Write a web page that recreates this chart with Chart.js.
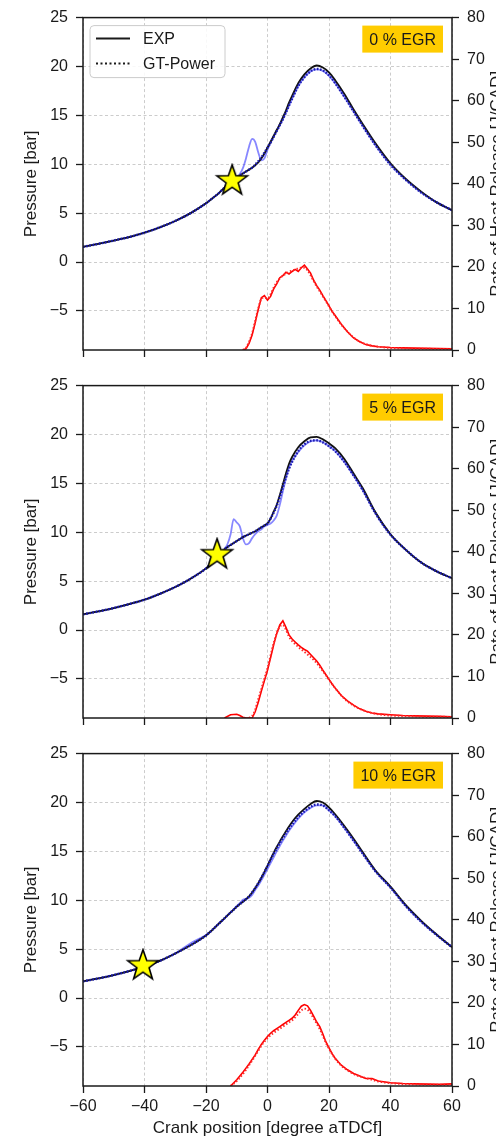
<!DOCTYPE html>
<html>
<head>
<meta charset="utf-8">
<script src="https://cdn.jsdelivr.net/npm/chart.js@4/dist/chart.umd.min.js"></script>
<style>
  body { margin: 0; background: #fff; }
  .wrap { position: relative; width: 496px; height: 1140px; overflow: hidden; }
  canvas { position: absolute; left: 0; }
</style>
</head>
<body>
<div class="wrap">
  <canvas id="c1" width="496" height="372" style="top:0"></canvas>
  <canvas id="c2" width="496" height="372" style="top:368px"></canvas>
  <canvas id="c3" width="496" height="404" style="top:736px"></canvas>
</div>
<script>
// ticks
const crankTicks = [-60, -40, -20, 0, 20, 40, 60];
const pressTicks = [-5, 0, 5, 10, 15, 20, 25];
const rohrTicks = [0, 10, 20, 30, 40, 50, 60, 70, 80];
const egrLabels = ['0 % EGR', '5 % EGR', '10 % EGR'];

// crank angle grid for the pressure traces [deg aTDCf]
const crankP = [-60,-55,-50,-45,-40,-35,-30,-25,-20,-18,-16,-15,-14,-13,-12,-11,-10,-9,-8,-7,-6,-5,-4,-3,-2,-1,0,1,2,3,4,5,6,7,8,10,12,14,16,18,20,22,25,28,31,35,40,45,50,55,60];

// pressure [bar]
const p1Exp = [1.55,1.85,2.2,2.55,3.0,3.55,4.2,5.0,6.0,6.5,7.0,7.3,7.6,7.9,8.15,8.4,8.65,8.85,9.05,9.25,9.45,9.65,9.9,10.2,10.6,11.1,11.7,12.3,12.9,13.5,14.1,14.8,15.5,16.3,17.0,18.3,19.2,19.8,20.1,19.9,19.4,18.6,17.2,15.6,14.1,12.2,10.1,8.5,7.2,6.1,5.3];
const p1Gt  = [1.55,1.85,2.2,2.55,3.0,3.55,4.2,5.0,6.0,6.5,7.0,7.3,7.6,7.9,8.15,8.4,8.65,8.85,9.05,9.25,9.45,9.65,9.95,10.3,10.7,11.2,11.7,12.2,12.8,13.4,14.0,14.6,15.3,16.0,16.7,18.0,18.9,19.5,19.75,19.6,19.1,18.3,16.9,15.4,13.9,12.0,9.95,8.4,7.1,6.1,5.3];
const p1Raw = [1.55,1.85,2.2,2.55,3.0,3.55,4.2,5.0,6.0,6.5,7.0,7.3,7.6,7.9,8.15,8.4,8.7,9.0,9.6,10.6,11.8,12.6,12.3,11.2,10.4,10.6,11.5,12.2,12.8,13.4,14.0,14.6,15.3,16.0,16.7,18.0,18.9,19.5,19.7,19.55,19.05,18.3,16.9,15.4,13.9,12.0,9.95,8.4,7.1,6.1,5.3];

const p2Exp = [1.6,1.9,2.25,2.65,3.1,3.7,4.4,5.25,6.3,6.9,7.6,7.95,8.25,8.5,8.7,8.9,9.1,9.3,9.5,9.65,9.8,9.95,10.1,10.3,10.5,10.7,10.9,11.4,12.1,12.8,13.8,14.9,16.0,17.0,17.7,18.7,19.3,19.7,19.75,19.5,19.1,18.6,17.5,16.0,14.5,12.1,9.8,8.2,6.9,6.0,5.3];
const p2Gt  = [1.6,1.9,2.25,2.65,3.1,3.7,4.4,5.25,6.3,6.9,7.6,7.95,8.25,8.5,8.7,8.9,9.1,9.3,9.5,9.65,9.8,9.95,10.1,10.3,10.5,10.7,10.9,11.4,12.0,12.7,13.6,14.6,15.6,16.5,17.2,18.3,19.0,19.35,19.4,19.2,18.8,18.3,17.2,15.8,14.3,12.0,9.75,8.2,6.9,6.0,5.3];
const p2Raw = [1.6,1.9,2.25,2.65,3.1,3.7,4.4,5.25,6.3,6.9,7.6,7.95,8.3,8.8,9.8,11.35,11.0,10.6,9.4,8.75,8.9,9.4,9.8,10.1,10.3,10.6,10.75,10.9,11.2,11.7,12.8,14.2,15.5,16.6,17.3,18.2,18.9,19.3,19.4,19.2,18.8,18.3,17.2,15.8,14.3,12.0,9.75,8.2,6.9,6.0,5.3];

const p3Exp = [1.7,2.0,2.35,2.75,3.2,3.8,4.55,5.4,6.4,6.95,7.55,7.85,8.15,8.45,8.75,9.05,9.35,9.6,9.85,10.1,10.4,10.8,11.25,11.75,12.3,12.9,13.55,14.2,14.85,15.45,16.0,16.55,17.05,17.55,18.0,18.75,19.35,19.85,20.15,20.0,19.5,18.8,17.6,16.3,14.9,13.1,11.4,9.5,7.9,6.5,5.2];
const p3Gt  = [1.7,2.0,2.35,2.75,3.2,3.8,4.55,5.4,6.4,6.95,7.55,7.85,8.15,8.45,8.75,9.05,9.35,9.6,9.85,10.1,10.4,10.8,11.25,11.75,12.3,12.9,13.5,14.15,14.75,15.3,15.85,16.35,16.85,17.3,17.75,18.5,19.1,19.55,19.8,19.7,19.2,18.6,17.4,16.1,14.75,13.0,11.3,9.4,7.8,6.45,5.2];
const p3Raw = [1.7,2.0,2.35,2.75,3.2,3.8,4.55,5.6,6.45,6.95,7.55,7.85,8.15,8.45,8.75,9.05,9.4,9.7,10.05,10.15,10.25,10.55,11.05,11.5,12.05,12.6,13.2,13.8,14.4,15.0,15.55,16.1,16.6,17.1,17.55,18.35,19.0,19.45,19.7,19.7,19.2,18.6,17.4,16.1,14.75,13.0,11.3,9.4,7.8,6.45,5.2];

// crank angle grid for the heat release traces
const crankR = [-14,-12,-10,-9,-8,-7,-6,-5,-4,-3,-2,-1,0,1,2,3,4,5,6,7,8,9,10,11,12,13,14,15,16,17,18,19,20,21,22,24,26,28,30,32,34,36,40,44,48,52,56,60];

// rate of heat release [J/CAD]
const r1Exp = [null,null,null,null,0,0.3,1.6,3.6,6.6,9.8,12.6,13.1,12.0,12.9,14.7,15.9,17.4,17.9,18.7,18.3,18.9,19.4,18.9,19.8,20.4,19.5,18.5,16.8,15.5,14.4,13.1,11.9,10.6,9.3,8.3,6.2,4.4,2.9,2.0,1.3,1.0,0.8,0.6,0.5,0.45,0.4,0.35,0.3];
const r1Gt  = [null,null,null,null,0,0.5,2.0,4.0,7.0,10.0,12.3,12.6,12.4,13.4,15.0,16.3,17.2,17.9,18.4,18.8,19.1,19.4,19.6,19.8,19.8,19.2,18.0,16.6,15.3,14.1,12.9,11.7,10.5,9.3,8.2,6.1,4.4,3.0,2.0,1.4,1.0,0.8,0.5,0.4,0.3,0.3,0.2,0.2];

const r2Exp = [0,0.8,0.9,0.6,0.2,0,0,0,1.5,3.8,6.5,9.0,11.5,14.5,17.6,20.3,22.4,23.4,21.8,20.0,19.0,18.3,17.6,17.0,16.5,16.1,15.3,14.5,13.7,12.7,11.5,10.4,9.3,8.2,7.2,5.4,4.1,3.1,2.2,1.6,1.2,1.0,0.8,0.6,0.5,0.45,0.4,0.3];
const r2Gt  = [null,null,null,null,null,null,0,0.5,2.0,4.5,7.0,9.5,12.0,15.0,18.0,20.4,22.0,22.4,21.2,19.6,18.5,17.8,17.1,16.5,15.9,15.3,14.7,14.0,13.2,12.3,11.3,10.3,9.2,8.2,7.2,5.4,4.0,3.0,2.2,1.6,1.2,0.9,0.6,0.5,0.4,0.3,0.3,0.2];

const r3Exp = [null,0,1.5,2.4,3.3,4.3,5.3,6.4,7.5,8.8,10.0,11.0,11.9,12.7,13.3,13.8,14.3,14.8,15.3,15.8,16.3,17.1,18.2,19.2,19.6,19.3,18.2,16.8,15.4,14.3,12.5,10.6,9.2,7.8,6.7,5.0,3.9,3.0,2.4,1.8,1.8,1.2,0.8,0.6,0.5,0.45,0.4,0.5];
const r3Gt  = [null,0,1.2,2.0,2.9,3.9,5.0,6.1,7.3,8.5,9.7,10.7,11.5,12.2,12.8,13.3,13.8,14.3,14.8,15.3,15.8,16.5,17.4,18.2,18.6,18.4,17.5,16.3,15.0,13.7,12.1,10.4,9.0,7.7,6.6,4.9,3.8,2.9,2.3,1.9,1.5,1.1,0.7,0.5,0.4,0.35,0.3,0.3];

// start of injection markers
const starX = [-11.5, -16.4, -40.5];
const starP = [8.3, 7.7, 3.3];

const pExp = [p1Exp, p2Exp, p3Exp];
const pGt = [p1Gt, p2Gt, p3Gt];
const pRaw = [p1Raw, p2Raw, p3Raw];
const rExp = [r1Exp, r2Exp, r3Exp];
const rGt = [r1Gt, r2Gt, r3Gt];

const fontFam = "'Liberation Sans', Arial, sans-serif";
const ink = '#1a1a1a';
Chart.defaults.font.family = fontFam;
Chart.defaults.font.size = 16;
Chart.defaults.color = ink;
Chart.defaults.animation = false;

function fmt(v) { return v < 0 ? '\u2212' + Math.abs(v) : String(v); }
function pts(xs, ys) { return xs.map((x, i) => ({x: x, y: ys[i]})); }
function fixTicks(list) { return s => { s.ticks = list.map(v => ({value: v})); }; }

// yellow star marker
function starImage(r) {
    const c = document.createElement('canvas');
    const s = Math.ceil(r * 2 + 4);
    c.width = s; c.height = s;
    const g = c.getContext('2d');
    g.translate(s / 2, s / 2);
    g.beginPath();
    for (let i = 0; i < 10; i++) {
        const a = -Math.PI / 2 + i * Math.PI / 5;
        const rr = i % 2 ? r * 0.4 : r;
        if (i === 0) g.moveTo(rr * Math.cos(a), rr * Math.sin(a));
        else g.lineTo(rr * Math.cos(a), rr * Math.sin(a));
    }
    g.closePath();
    g.fillStyle = '#ffff00';
    g.fill();
    g.lineWidth = 1.6;
    g.strokeStyle = '#000';
    g.stroke();
    return c;
}
const starImg = starImage(16);

const panelDeco = {
    id: 'panelDeco',
    afterDatasetsDraw(chart, args, opts) {
        const ctx = chart.ctx;
        const a = chart.chartArea;
        ctx.save();
        // frame
        ctx.strokeStyle = ink;
        ctx.lineWidth = 1.5;
        ctx.setLineDash([]);
        ctx.strokeRect(a.left, a.top, a.right - a.left, a.bottom - a.top);

        // EGR box
        ctx.font = '16px ' + fontFam;
        const tw = ctx.measureText(opts.egr).width;
        const bw = tw + 14, bh = 27;
        const bx = a.right - 9 - bw, by = a.top + 8;
        ctx.fillStyle = '#ffcc00';
        ctx.fillRect(bx, by, bw, bh);
        ctx.fillStyle = ink;
        ctx.textAlign = 'center';
        ctx.textBaseline = 'middle';
        ctx.fillText(opts.egr, bx + bw / 2, by + bh / 2 + 1);

        // legend
        if (opts.legend) {
            const lx = a.left + 7, ly = a.top + 8, lw = 135, lh = 52;
            ctx.fillStyle = 'rgba(255,255,255,0.85)';
            ctx.strokeStyle = '#cccccc';
            ctx.lineWidth = 1;
            ctx.beginPath();
            ctx.roundRect(lx, ly, lw, lh, 4);
            ctx.fill();
            ctx.stroke();
            ctx.strokeStyle = ink;
            ctx.lineWidth = 2;
            ctx.beginPath();
            ctx.moveTo(lx + 6, ly + 13); ctx.lineTo(lx + 40, ly + 13);
            ctx.stroke();
            ctx.setLineDash([2, 2.5]);
            ctx.beginPath();
            ctx.moveTo(lx + 6, ly + 38); ctx.lineTo(lx + 40, ly + 38);
            ctx.stroke();
            ctx.setLineDash([]);
            ctx.fillStyle = ink;
            ctx.textAlign = 'left';
            ctx.fillText('EXP', lx + 53, ly + 14);
            ctx.fillText('GT-Power', lx + 53, ly + 39);
        }

        // right axis title (reads bottom to top, cut by the page edge)
        ctx.font = '17px ' + fontFam;
        ctx.translate(489, (a.top + a.bottom) / 2);
        ctx.rotate(-Math.PI / 2);
        ctx.textAlign = 'center';
        ctx.textBaseline = 'top';
        ctx.fillText('Rate of Heat Release [J/CAD]', 0, 0);
        ctx.restore();
    }
};

function gridOpts() {
    return {color: '#cccccc', lineWidth: 1, tickColor: ink, tickLength: 7, tickWidth: 1.3};
}

function buildPanel(id, i, xh, showX) {
    new Chart(document.getElementById(id), {
        type: 'line',
        data: {
            datasets: [
                {
                    label: 'SOI',
                    data: [{x: starX[i], y: starP[i]}],
                    showLine: false,
                    pointStyle: starImg,
                    pointRadius: 10,
                    yAxisID: 'y',
                    order: 0
                },
                {
                    label: 'GT-Power',
                    data: pts(crankP, pGt[i]),
                    borderColor: '#1c1cb0',
                    borderWidth: 2.4,
                    borderDash: [1.6, 1.6],
                    pointRadius: 0,
                    cubicInterpolationMode: 'monotone',
                    yAxisID: 'y',
                    order: 1
                },
                {
                    label: 'EXP',
                    data: pts(crankP, pExp[i]),
                    borderColor: '#111111',
                    borderWidth: 1.8,
                    pointRadius: 0,
                    cubicInterpolationMode: 'monotone',
                    yAxisID: 'y',
                    order: 2
                },
                {
                    label: 'EXP raw',
                    data: pts(crankP, pRaw[i]),
                    borderColor: 'rgba(70,70,255,0.65)',
                    borderWidth: 1.8,
                    pointRadius: 0,
                    cubicInterpolationMode: 'monotone',
                    yAxisID: 'y',
                    order: 3
                },
                {
                    label: 'RoHR GT-Power',
                    data: pts(crankR, rGt[i]),
                    borderColor: '#ff2a2a',
                    borderWidth: 2,
                    borderDash: [1.5, 2],
                    pointRadius: 0,
                    cubicInterpolationMode: 'monotone',
                    yAxisID: 'y2',
                    order: 4
                },
                {
                    label: 'RoHR EXP',
                    data: pts(crankR, rExp[i]),
                    borderColor: '#ff0000',
                    borderWidth: 1.6,
                    pointRadius: 0,
                    tension: 0,
                    yAxisID: 'y2',
                    order: 5
                }
            ]
        },
        options: {
            responsive: false,
            events: [],
            layout: {padding: {top: 15, left: 0, right: 0, bottom: 0}},
            plugins: {
                legend: {display: false},
                tooltip: {enabled: false},
                panelDeco: {egr: egrLabels[i], legend: i === 0}
            },
            scales: {
                x: {
                    type: 'linear',
                    min: -60, max: 60,
                    afterBuildTicks: fixTicks(crankTicks),
                    afterFit: s => { s.height = xh; },
                    grid: gridOpts(),
                    border: {display: false, dash: [3, 2.5]},
                    ticks: {display: showX, padding: 4, maxRotation: 0, autoSkip: false, callback: v => fmt(v)},
                    title: {display: showX, text: 'Crank position [degree aTDCf]', font: {size: 17}, padding: {top: 0, bottom: 1}}
                },
                y: {
                    position: 'left',
                    min: -9, max: 25,
                    afterBuildTicks: fixTicks(pressTicks),
                    afterFit: s => { s.width = 83; },
                    grid: gridOpts(),
                    border: {display: false, dash: [3, 2.5]},
                    ticks: {padding: 8, callback: v => fmt(v)},
                    title: {display: true, text: 'Pressure [bar]', font: {size: 17}, padding: {top: 21, bottom: 0}}
                },
                y2: {
                    position: 'right',
                    min: 0, max: 80,
                    afterBuildTicks: fixTicks(rohrTicks),
                    afterFit: s => { s.width = 44; },
                    grid: Object.assign(gridOpts(), {drawOnChartArea: false}),
                    border: {display: false},
                    ticks: {padding: 8, callback: v => fmt(v)}
                }
            }
        },
        plugins: [panelDeco]
    });
}

buildPanel('c1', 0, 22, false);
buildPanel('c2', 1, 22, false);
buildPanel('c3', 2, 54, true);
</script>
</body>
</html>
